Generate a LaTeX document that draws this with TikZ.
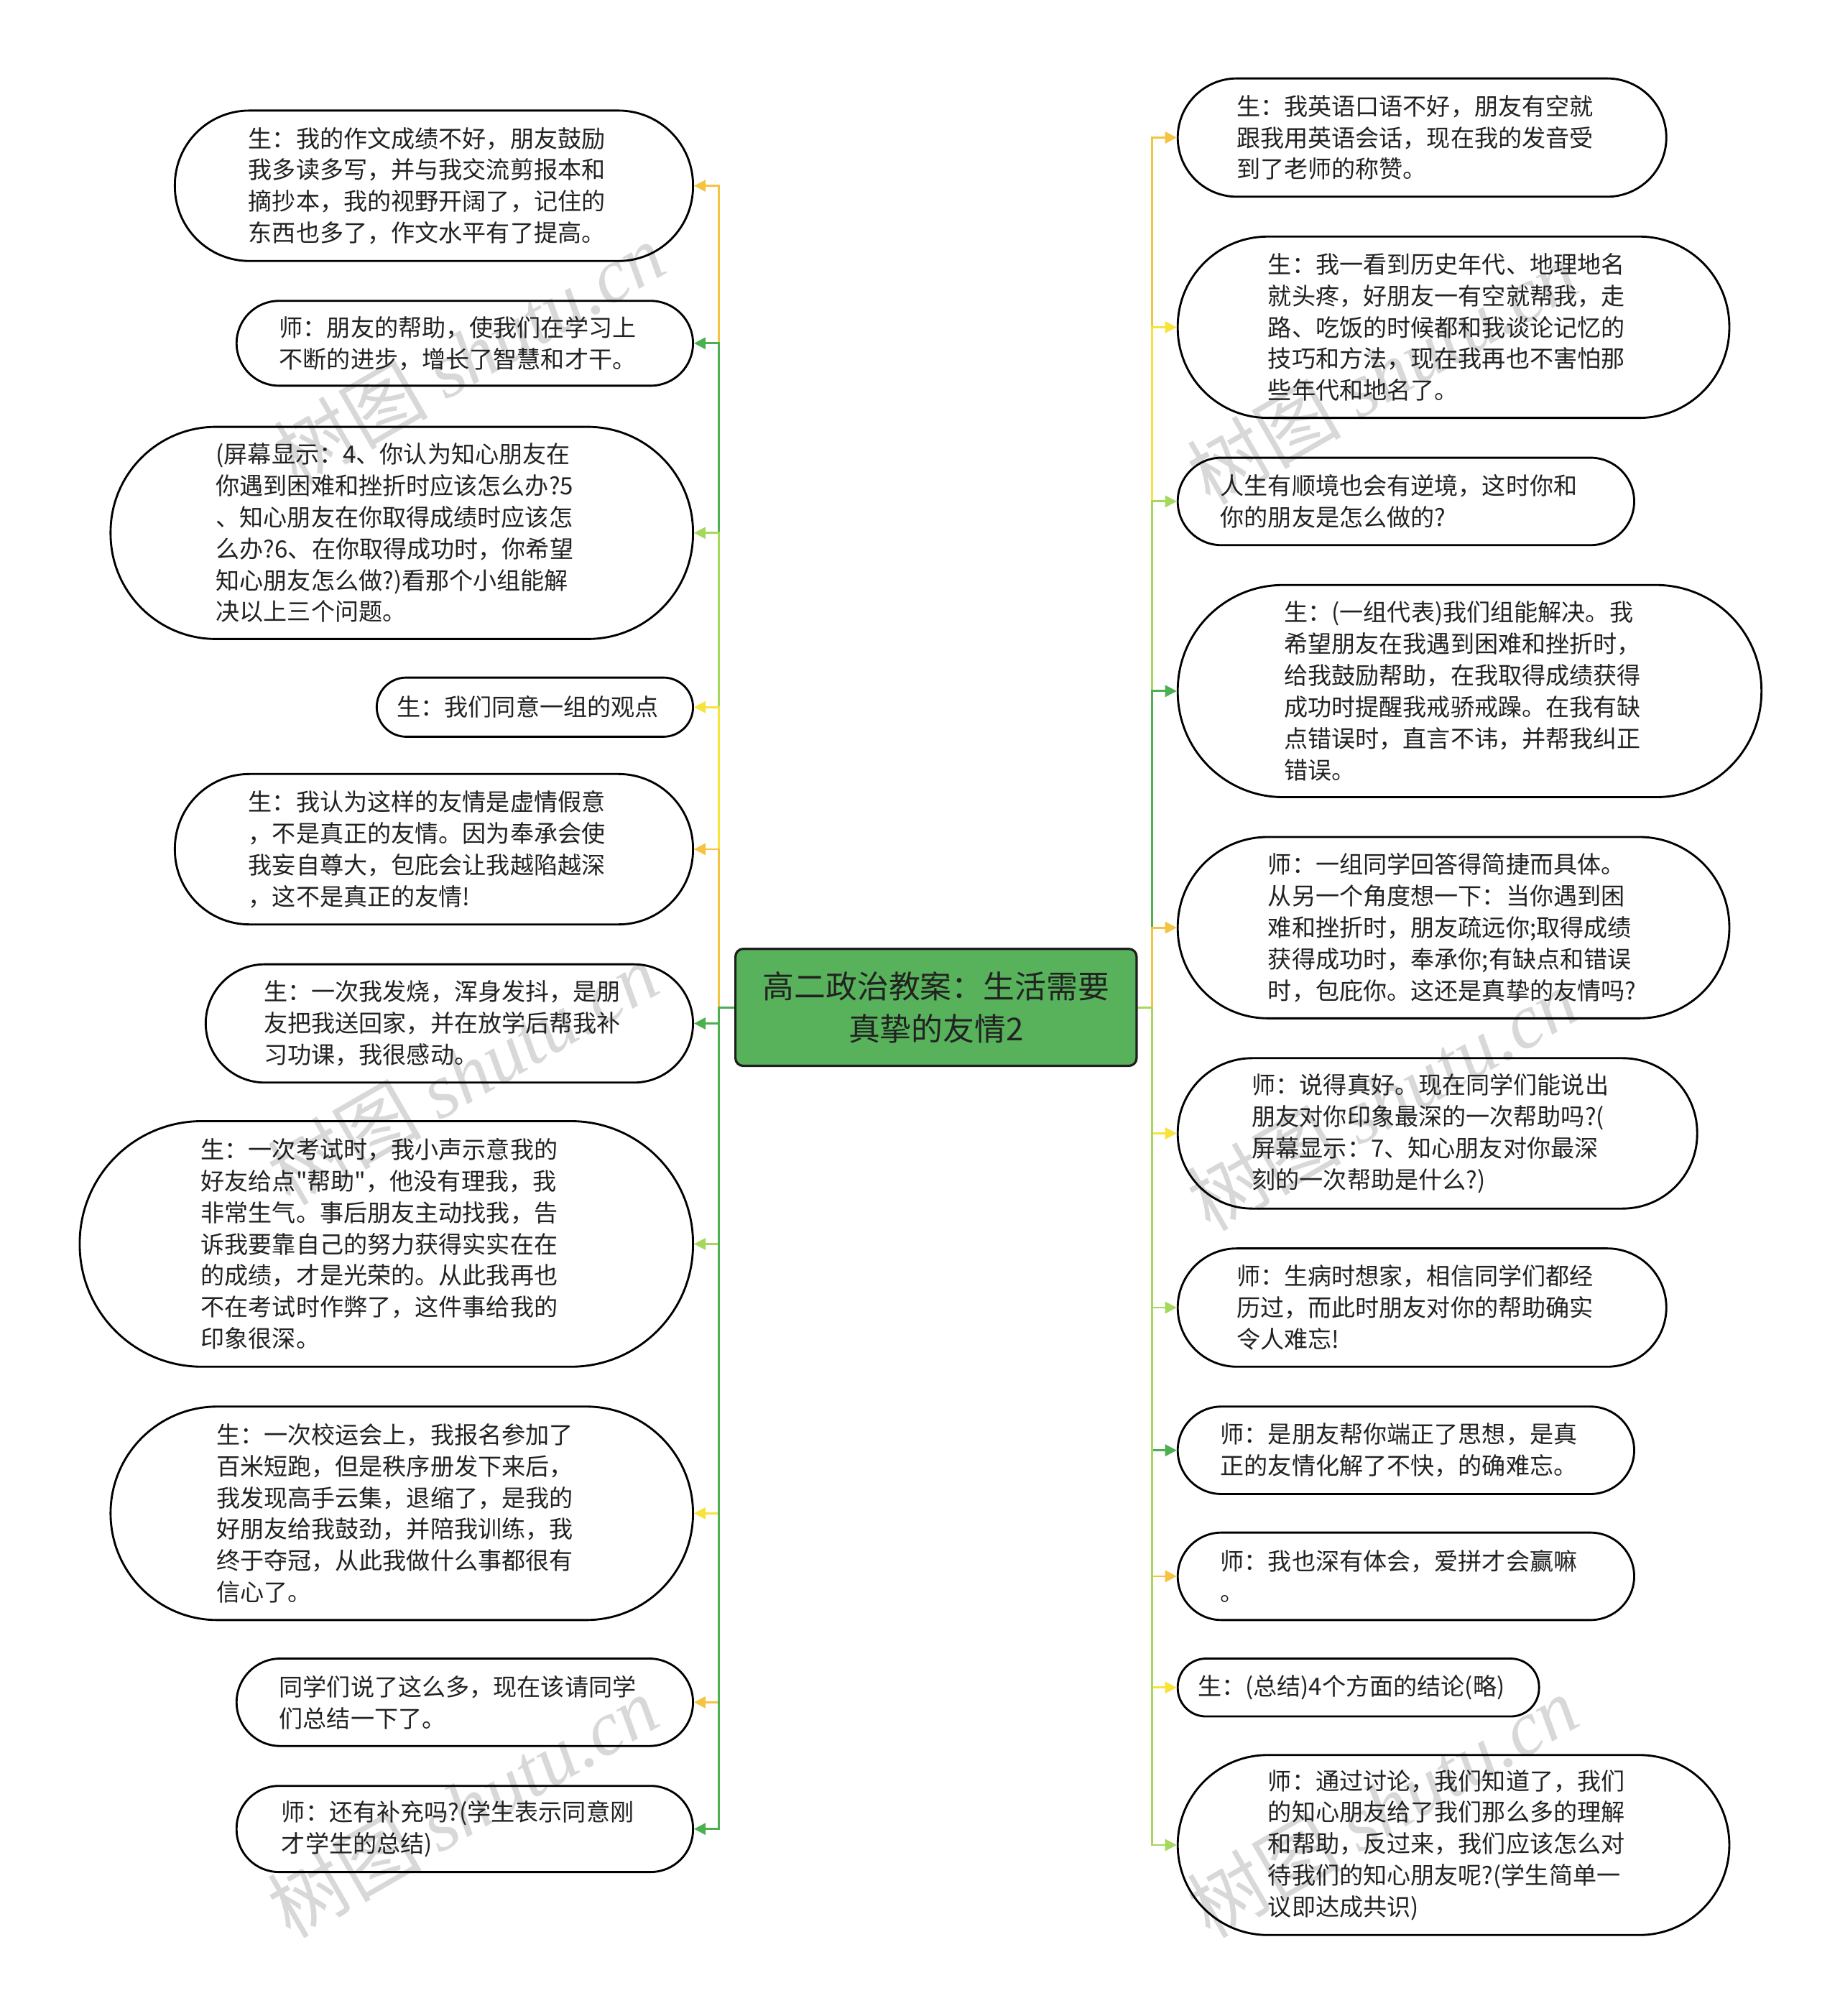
\documentclass[tikz,border=0pt]{standalone}
\usepackage{fontspec}
\setmainfont{Noto Sans CJK SC}[Ligatures=TeXOff]
\newfontfamily\wmfont{Liberation Serif}
\usetikzlibrary{arrows.meta}
\pgfdeclarelayer{bg}
\pgfsetlayers{bg,main}
\definecolor{cOr}{HTML}{F5C342}
\definecolor{cGr}{HTML}{4CAF50}
\definecolor{cLg}{HTML}{A5D85C}
\definecolor{cYe}{HTML}{F7E33B}
\definecolor{rootfill}{HTML}{57B25B}
\definecolor{rootline}{HTML}{1E1E1E}
\definecolor{txt}{HTML}{222222}
\definecolor{wmgray}{HTML}{D8D8D8}
\newcommand\E{\kern11pt}
\begin{document}
\begin{tikzpicture}[x=1pt,y=-1pt,
  bubble/.style={draw=black, line width=1.6pt, align=left, text=txt, inner sep=0pt,
    font=\fontsize{18.5}{24.5}\selectfont},
  conn/.style={line width=1.6pt, -{Triangle[length=9pt,width=9pt]}},
  rootbox/.style={draw=rootline, fill=rootfill, line width=1.8pt, rounded corners=6pt,
    align=center, text=txt, inner sep=0pt, font=\fontsize{24.5}{33}\selectfont},
  wm/.style={text=wmgray, font=\fontsize{60}{62}\selectfont, inner sep=0pt, rotate=30}
]
\useasboundingbox (0,0) rectangle (1431,1568);

% left nodes
\node[bubble, minimum width=403pt, minimum height=117pt, rounded corners=58pt] (L1) at (337.5,144.5)
 {生：我的作文成绩不好，朋友鼓励\E\\我多读多写，并与我交流剪报本和\\摘抄本，我的视野开阔了，记住的\\东西也多了，作文水平有了提高。};
\node[bubble, minimum width=355pt, minimum height=66pt, rounded corners=33pt] (L2) at (361.5,267)
 {师：朋友的帮助，使我们在学习上\E\\不断的进步，增长了智慧和才干。};
\node[bubble, minimum width=453pt, minimum height=165pt, rounded corners=82pt] (L3) at (312.5,414.5)
 {(屏幕显示：4、你认为知心朋友在\\你遇到困难和挫折时应该怎么办?5\E\\、知心朋友在你取得成绩时应该怎\\么办?6、在你取得成功时，你希望\\知心朋友怎么做?)看那个小组能解\\决以上三个问题。};
\node[bubble, minimum width=246pt, minimum height=46pt, rounded corners=23pt] (L4) at (416,550)
 {生：我们同意一组的观点\E};
\node[bubble, minimum width=403pt, minimum height=117pt, rounded corners=58pt] (L5) at (337.5,660.5)
 {生：我认为这样的友情是虚情假意\E\\，不是真正的友情。因为奉承会使\\我妄自尊大，包庇会让我越陷越深\\，这不是真正的友情!};
\node[bubble, minimum width=379pt, minimum height=92pt, rounded corners=46pt] (L6) at (349.5,796)
 {生：一次我发烧，浑身发抖，是朋\E\\友把我送回家，并在放学后帮我补\\习功课，我很感动。};
\node[bubble, minimum width=477pt, minimum height=191pt, rounded corners=95pt] (L7) at (300.5,967.5)
 {生：一次考试时，我小声示意我的\E\\好友给点"帮助"，他没有理我，我\\非常生气。事后朋友主动找我，告\\诉我要靠自己的努力获得实实在在\\的成绩，才是光荣的。从此我再也\\不在考试时作弊了，这件事给我的\\印象很深。};
\node[bubble, minimum width=453pt, minimum height=166pt, rounded corners=83pt] (L8) at (312.5,1177)
 {生：一次校运会上，我报名参加了\E\\百米短跑，但是秩序册发下来后，\\我发现高手云集，退缩了，是我的\\好朋友给我鼓劲，并陪我训练，我\\终于夺冠，从此我做什么事都很有\\信心了。};
\node[bubble, minimum width=355pt, minimum height=68pt, rounded corners=34pt] (L9) at (361.5,1324)
 {同学们说了这么多，现在该请同学\E\\们总结一下了。};
\node[bubble, minimum width=355pt, minimum height=67pt, rounded corners=33pt] (L10) at (361.5,1422.5)
 {师：还有补充吗?(学生表示同意刚\E\\才学生的总结)};

% right nodes
\node[bubble, minimum width=380pt, minimum height=92pt, rounded corners=46pt] (R1) at (1106,107)
 {生：我英语口语不好，朋友有空就\E\\跟我用英语会话，现在我的发音受\\到了老师的称赞。};
\node[bubble, minimum width=429pt, minimum height=141pt, rounded corners=70pt] (R2) at (1130.5,254.5)
 {生：我一看到历史年代、地理地名\E\\就头疼，好朋友一有空就帮我，走\\路、吃饭的时候都和我谈论记忆的\\技巧和方法，现在我再也不害怕那\\些年代和地名了。};
\node[bubble, minimum width=355pt, minimum height=68pt, rounded corners=34pt] (R3) at (1093.5,390)
 {人生有顺境也会有逆境，这时你和\E\\你的朋友是怎么做的?};
\node[bubble, minimum width=454pt, minimum height=165pt, rounded corners=82pt] (R4) at (1143,537.5)
 {生：(一组代表)我们组能解决。我\\希望朋友在我遇到困难和挫折时，\\给我鼓励帮助，在我取得成绩获得\E\\成功时提醒我戒骄戒躁。在我有缺\\点错误时，直言不讳，并帮我纠正\\错误。};
\node[bubble, minimum width=429pt, minimum height=141pt, rounded corners=70pt] (R5) at (1130.5,721.5)
 {师：一组同学回答得简捷而具体。\E\\从另一个角度想一下：当你遇到困\\难和挫折时，朋友疏远你;取得成绩\\获得成功时，奉承你;有缺点和错误\\时，包庇你。这还是真挚的友情吗?};
\node[bubble, minimum width=404pt, minimum height=117pt, rounded corners=58pt] (R6) at (1118,881.5)
 {师：说得真好。现在同学们能说出\E\\朋友对你印象最深的一次帮助吗?(\\屏幕显示：7、知心朋友对你最深\\刻的一次帮助是什么?)};
\node[bubble, minimum width=380pt, minimum height=92pt, rounded corners=46pt] (R7) at (1106,1017)
 {师：生病时想家，相信同学们都经\E\\历过，而此时朋友对你的帮助确实\\令人难忘!};
\node[bubble, minimum width=355pt, minimum height=68pt, rounded corners=34pt] (R8) at (1093.5,1128)
 {师：是朋友帮你端正了思想，是真\E\\正的友情化解了不快，的确难忘。};
\node[bubble, minimum width=355pt, minimum height=68pt, rounded corners=34pt] (R9) at (1093.5,1226)
 {师：我也深有体会，爱拼才会赢嘛\E\\。};
\node[bubble, minimum width=281pt, minimum height=45pt, rounded corners=22pt] (R10) at (1056.5,1312.5)
 {生：(总结)4个方面的结论(略)\E};
\node[bubble, minimum width=429pt, minimum height=140pt, rounded corners=70pt] (R11) at (1130.5,1435)
 {师：通过讨论，我们知道了，我们\E\\的知心朋友给了我们那么多的理解\\和帮助，反过来，我们应该怎么对\\待我们的知心朋友呢?(学生简单一\\议即达成共识)};

% root
\node[rootbox, minimum width=312pt, minimum height=91pt] (root) at (728,783.5)
 {高二政治教案：生活需要\\真挚的友情2};

\begin{pgfonlayer}{bg}
\fill[white] (0,0) rectangle (1431,1568);
% watermarks
\node[wm] (wm1) at (365,275) {树图 {\wmfont\itshape shutu.cn}};
\node[wm] (wm2) at (1075,290) {树图 {\wmfont\itshape shutu.cn}};
\node[wm] (wm3) at (360,835) {树图 {\wmfont\itshape shutu.cn}};
\node[wm] (wm4) at (1075,855) {树图 {\wmfont\itshape shutu.cn}};
\node[wm] (wm5) at (360,1405) {树图 {\wmfont\itshape shutu.cn}};
\node[wm] (wm6) at (1075,1405) {树图 {\wmfont\itshape shutu.cn}};

% connectors
\draw[conn, cOr] (root.west) -- ++(-12,0) |- (L1.east);
\draw[conn, cGr] (root.west) -- ++(-12,0) |- (L2.east);
\draw[conn, cLg] (root.west) -- ++(-12,0) |- (L3.east);
\draw[conn, cYe] (root.west) -- ++(-12,0) |- (L4.east);
\draw[conn, cOr] (root.west) -- ++(-12,0) |- (L5.east);
\draw[conn, cGr] (root.west) -- ++(-12,0) |- (L6.east);
\draw[conn, cLg] (root.west) -- ++(-12,0) |- (L7.east);
\draw[conn, cYe] (root.west) -- ++(-12,0) |- (L8.east);
\draw[conn, cOr] (root.west) -- ++(-12,0) |- (L9.east);
\draw[conn, cGr] (root.west) -- ++(-12,0) |- (L10.east);

\draw[conn, cOr] (root.east) -- ++(11,0) |- (R1.west);
\draw[conn, cYe] (root.east) -- ++(11,0) |- (R2.west);
\draw[conn, cLg] (root.east) -- ++(11,0) |- (R3.west);
\draw[conn, cGr] (root.east) -- ++(11,0) |- (R4.west);
\draw[conn, cOr] (root.east) -- ++(11,0) |- (R5.west);
\draw[conn, cYe] (root.east) -- ++(11,0) |- (R6.west);
\draw[conn, cLg] (root.east) -- ++(11,0) |- (R7.west);
\draw[conn, cGr] (root.east) -- ++(11,0) |- (R8.west);
\draw[conn, cOr] (root.east) -- ++(11,0) |- (R9.west);
\draw[conn, cYe] (root.east) -- ++(11,0) |- (R10.west);
\draw[conn, cLg] (root.east) -- ++(11,0) |- (R11.west);
\end{pgfonlayer}
\end{tikzpicture}
\end{document}
